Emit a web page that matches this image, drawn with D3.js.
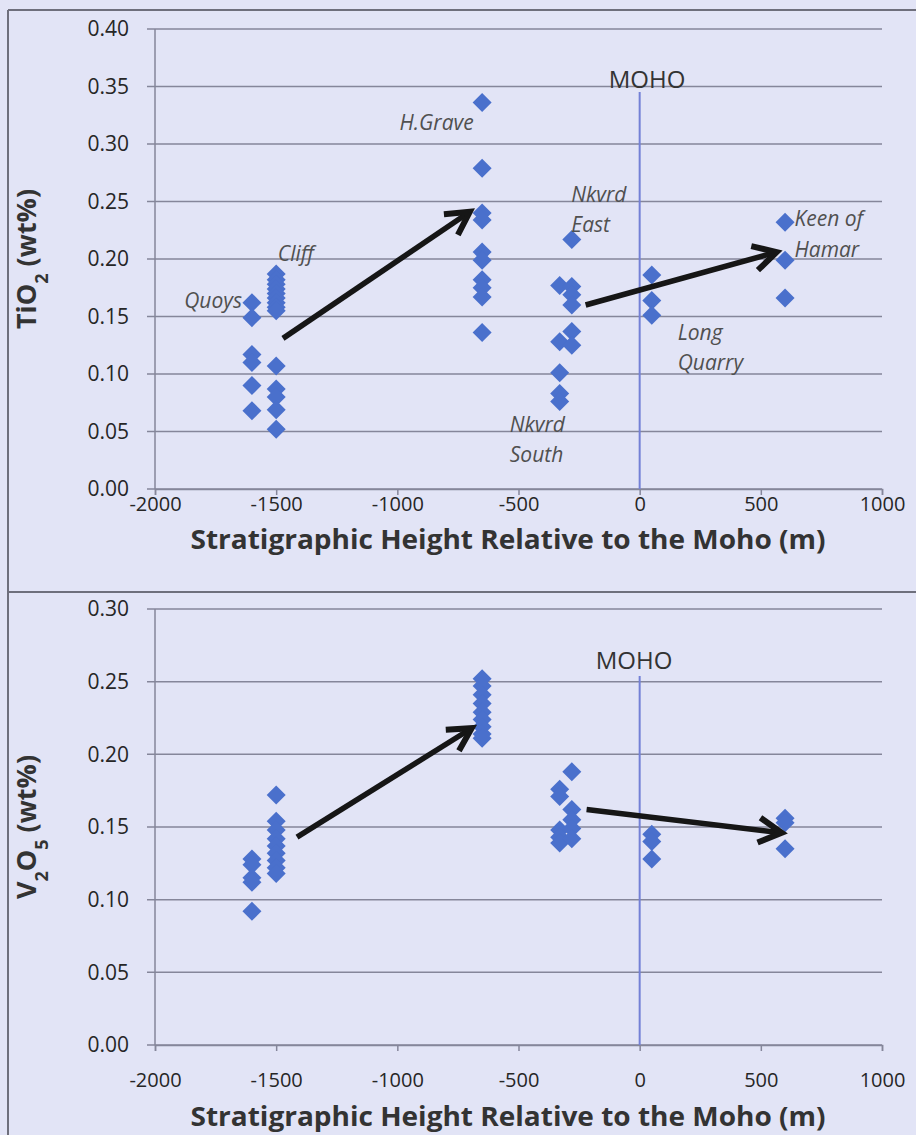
<!DOCTYPE html>
<html>
<head>
<meta charset="utf-8">
<script src="https://cdn.jsdelivr.net/npm/d3@7"></script>
<style>
  html, body { margin: 0; padding: 0; background: #e2e4f6; }
  svg { display: block; }
  text { font-family: "Open Sans", "DejaVu Sans", sans-serif; }
</style>
</head>
<body>
<svg id="chart" width="916" height="1135"></svg>
<script>
// Sampling sites and their stratigraphic height relative to the Moho (m)
const sites = ["Quoys", "Cliff", "H.Grave", "Nkvrd South", "Nkvrd East", "Long Quarry", "Keen of Hamar"];
const siteHeight = [-1600, -1500, -650, -330, -280, 50, 600];

// TiO2 (wt%) per site
const tio2 = [
  [0.162, 0.149, 0.117, 0.110, 0.090, 0.068],
  [0.187, 0.182, 0.178, 0.174, 0.170, 0.166, 0.162, 0.158, 0.155, 0.107, 0.087, 0.080, 0.069, 0.052],
  [0.336, 0.279, 0.240, 0.234, 0.206, 0.199, 0.182, 0.175, 0.167, 0.136],
  [0.177, 0.128, 0.101, 0.083, 0.076],
  [0.217, 0.176, 0.169, 0.160, 0.137, 0.125],
  [0.186, 0.164, 0.151],
  [0.232, 0.199, 0.166]
];

// V2O5 (wt%) per site
const v2o5 = [
  [0.128, 0.124, 0.115, 0.112, 0.092],
  [0.172, 0.154, 0.148, 0.142, 0.137, 0.132, 0.127, 0.122, 0.118],
  [0.252, 0.247, 0.241, 0.235, 0.229, 0.224, 0.219, 0.214, 0.211],
  [0.176, 0.171, 0.148, 0.143, 0.139],
  [0.188, 0.162, 0.155, 0.149, 0.142],
  [0.145, 0.140, 0.128],
  [0.156, 0.153, 0.135]
];

// Axis ticks
const xTicks = [-2000, -1500, -1000, -500, 0, 500, 1000];
const tio2Ticks = [0, 0.05, 0.10, 0.15, 0.20, 0.25, 0.30, 0.35, 0.40];
const v2o5Ticks = [0, 0.05, 0.10, 0.15, 0.20, 0.25, 0.30];

// Trend arrows [start, end] as [height, wt%]
const tio2Arrows = [[[-1472, 0.131], [-701, 0.241]], [[-223, 0.160], [565, 0.206]]];
const v2o5Arrows = [[[-1414, 0.143], [-693, 0.218]], [[-219, 0.162], [586, 0.146]]];

// Site name annotations (TiO2 panel): lines, height, wt%, anchor
const siteLabels = [
  { lines: ["Quoys"], x: -1641, y: 0.164, anchor: "end" },
  { lines: ["Cliff"], x: -1493, y: 0.205, anchor: "start" },
  { lines: ["H.Grave"], x: -685, y: 0.319, anchor: "end" },
  { lines: ["Nkvrd", "East"], x: -282, y: 0.256, anchor: "start" },
  { lines: ["Long", "Quarry"], x: 157, y: 0.136, anchor: "start" },
  { lines: ["Keen of", "Hamar"], x: 639, y: 0.235, anchor: "start" },
  { lines: ["Nkvrd", "South"], x: -536, y: 0.056, anchor: "start" }
];

const svg = d3.select("#chart");
const W = 916, H = 1135;

svg.append("rect").attr("width", W).attr("height", H).attr("fill", "#e2e4f6");

// Panel frames
const frame = svg.append("g").attr("stroke", "#6e6f7c").attr("stroke-width", 2).attr("fill", "none");
frame.append("line").attr("x1", 8).attr("x2", 8).attr("y1", 10).attr("y2", H);
frame.append("line").attr("x1", 8).attr("x2", W).attr("y1", 10).attr("y2", 10);
frame.append("line").attr("x1", 8).attr("x2", W).attr("y1", 592).attr("y2", 592);

const diamond = "M0,-9.5L9.5,0L0,9.5L-9.5,0Z";

function arrowHead(g, x1, y1, x2, y2) {
  const a = Math.atan2(y2 - y1, x2 - x1);
  const len = 26, spread = 0.5;
  const p1 = [x2 - len * Math.cos(a - spread), y2 - len * Math.sin(a - spread)];
  const p2 = [x2 - len * Math.cos(a + spread), y2 - len * Math.sin(a + spread)];
  g.append("path")
    .attr("d", `M${p1[0]},${p1[1]}L${x2},${y2}L${p2[0]},${p2[1]}`)
    .attr("fill", "none").attr("stroke", "#161616").attr("stroke-width", 6)
    .attr("stroke-linejoin", "miter").attr("stroke-linecap", "butt");
}

function drawPanel(opts) {
  const { top, bottom, yMax, yTicks, values, arrows, mohoTop, mohoLabel, yTitle, xTickY, xTitleY, labels } = opts;
  const x = d3.scaleLinear().domain([-2000, 1000]).range([155, 882]);
  const y = d3.scaleLinear().domain([0, yMax]).range([bottom, top]);
  const g = svg.append("g");

  // Horizontal gridlines
  g.append("g").selectAll("line").data(yTicks).join("line")
    .attr("x1", 147).attr("x2", 882)
    .attr("y1", d => y(d)).attr("y2", d => y(d))
    .attr("stroke", "#85869a").attr("stroke-width", 1.5);

  // Vertical value axis line
  g.append("line").attr("x1", 155).attr("x2", 155).attr("y1", top).attr("y2", bottom)
    .attr("stroke", "#85869a").attr("stroke-width", 1.5);

  // Y tick labels
  const yAxis = d3.axisLeft(y).tickValues(yTicks).tickFormat(d3.format(".2f")).tickSize(0).tickPadding(0);
  const ya = g.append("g").attr("transform", "translate(129,0)").call(yAxis);
  ya.select(".domain").remove();
  ya.selectAll("text").attr("font-size", 21).attr("fill", "#262626")
    .attr("font-family", "'Open Sans', sans-serif");

  // X axis with outside ticks
  const xAxis = d3.axisBottom(x).tickValues(xTicks).tickFormat(d => d3.format("d")(d).replace("−", "-")).tickSize(6).tickPadding(0);
  const xa = g.append("g").attr("transform", `translate(0,${bottom})`).call(xAxis);
  xa.select(".domain").attr("stroke", "#85869a").attr("stroke-width", 1.5);
  xa.selectAll(".tick line").attr("stroke", "#85869a").attr("stroke-width", 1.5);
  xa.selectAll("text").attr("font-size", 20).attr("fill", "#262626")
    .attr("font-family", "'Open Sans', sans-serif")
    .attr("y", xTickY - bottom).attr("dy", "0.35em");

  // Moho marker line
  g.append("line").attr("x1", x(0)).attr("x2", x(0)).attr("y1", mohoTop).attr("y2", bottom)
    .attr("stroke", "#7380d6").attr("stroke-width", 2);
  g.append("text").attr("x", mohoLabel[0]).attr("y", mohoLabel[1]).attr("text-anchor", "middle")
    .attr("dy", "0.35em").attr("font-size", 24).attr("fill", "#333").text("MOHO");

  // Data points
  const pts = [];
  values.forEach((arr, i) => arr.forEach(v => pts.push({ site: sites[i], h: siteHeight[i], v })));
  g.append("g").selectAll("path").data(pts).join("path")
    .attr("d", diamond)
    .attr("transform", d => `translate(${x(d.h)},${y(d.v)})`)
    .attr("fill", "#4a70cc");

  // Trend arrows
  const ag = g.append("g");
  arrows.forEach(([s, e]) => {
    const x1 = x(s[0]), y1 = y(s[1]), x2 = x(e[0]), y2 = y(e[1]);
    const a = Math.atan2(y2 - y1, x2 - x1);
    ag.append("line").attr("x1", x1).attr("y1", y1)
      .attr("x2", x2 - 3 * Math.cos(a)).attr("y2", y2 - 3 * Math.sin(a))
      .attr("stroke", "#161616").attr("stroke-width", 5.5);
    arrowHead(ag, x1, y1, x2, y2);
  });

  // Site labels
  if (labels) {
    labels.forEach(l => {
      const t = g.append("text").attr("text-anchor", l.anchor).attr("font-style", "italic")
        .attr("font-size", 21).attr("fill", "#505050");
      l.lines.forEach((s, k) => {
        t.append("tspan").attr("x", x(l.x)).attr("y", y(l.y)).attr("dy", `${0.35 + k * 1.45}em`).text(s);
      });
    });
  }

  // Y axis title with subscripts
  const yt = g.append("text").attr("transform", `translate(27,${(top + bottom) / 2}) rotate(-90)`)
    .attr("text-anchor", "middle").attr("dy", "0.35em").attr("font-size", 27).attr("font-weight", "bold").attr("fill", "#333");
  yTitle.forEach(part => {
    const ts = yt.append("tspan").text(part.t);
    if (part.sub) ts.attr("baseline-shift", "sub").attr("font-size", 18);
  });

  // X axis title
  g.append("text").attr("x", 508).attr("y", xTitleY).attr("text-anchor", "middle").attr("dy", "0.35em")
    .attr("font-size", 26).attr("font-weight", "bold").attr("fill", "#333")
    .attr("textLength", 635).attr("lengthAdjust", "spacingAndGlyphs")
    .text("Stratigraphic Height Relative to the Moho (m)");
}

drawPanel({
  top: 29, bottom: 489, yMax: 0.40, yTicks: tio2Ticks, values: tio2, arrows: tio2Arrows,
  mohoTop: 92, mohoLabel: [647, 80],
  yTitle: [{ t: "TiO" }, { t: "2", sub: true }, { t: " (wt%)" }],
  xTickY: 504, xTitleY: 540, labels: siteLabels
});

drawPanel({
  top: 609, bottom: 1045, yMax: 0.30, yTicks: v2o5Ticks, values: v2o5, arrows: v2o5Arrows,
  mohoTop: 676, mohoLabel: [634, 661],
  yTitle: [{ t: "V" }, { t: "2", sub: true }, { t: "O" }, { t: "5", sub: true }, { t: " (wt%)" }],
  xTickY: 1080, xTitleY: 1117, labels: null
});
</script>
</body>
</html>
